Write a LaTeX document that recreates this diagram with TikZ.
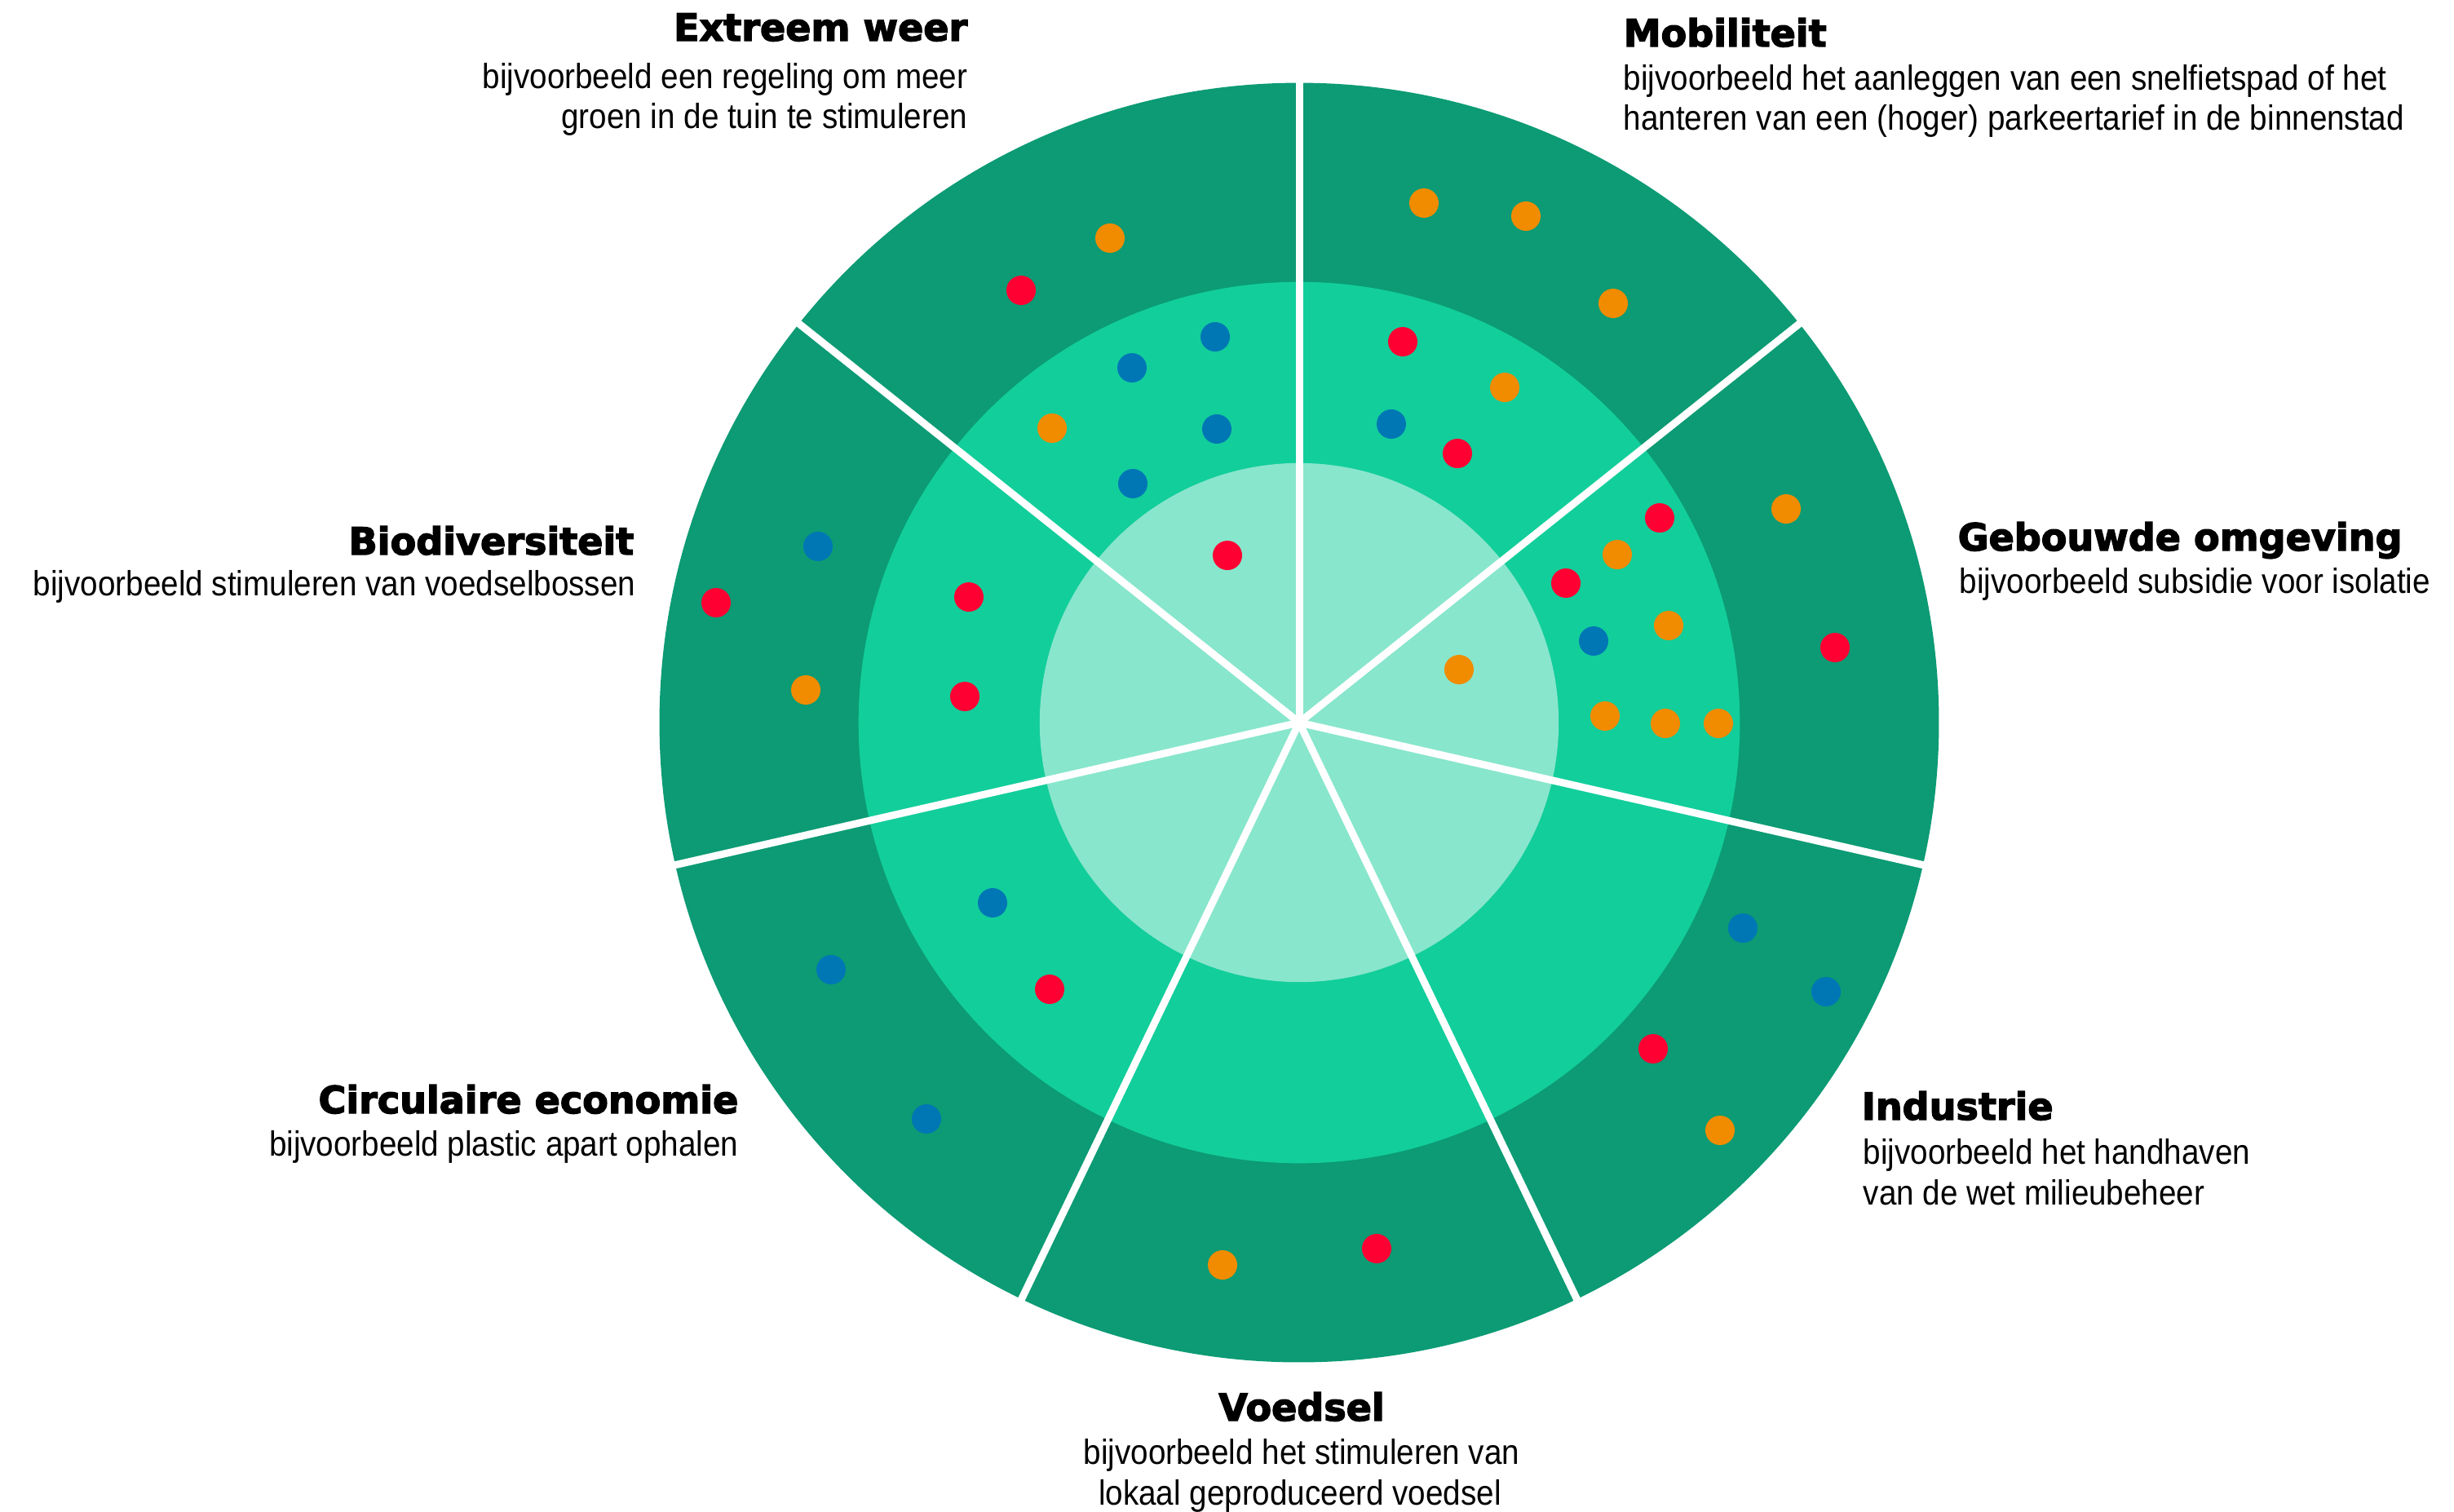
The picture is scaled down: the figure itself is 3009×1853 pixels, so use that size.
\documentclass[tikz,border=0pt]{standalone}
\usepackage{fontspec}
\setmainfont{Liberation Sans}[FakeStretch=0.9]
\newfontfamily\titlefont{DejaVu Sans}[BoldFeatures={FakeBold=3}]
\definecolor{ringdark}{HTML}{0C9B74}
\definecolor{ringmid}{HTML}{12CE9B}
\definecolor{ringlight}{HTML}{88E6CC}
\definecolor{dotO}{HTML}{F18B00}
\definecolor{dotR}{HTML}{FF0033}
\definecolor{dotB}{HTML}{0077B5}
\begin{document}
\begin{tikzpicture}[x=0.01cm,y=-0.01cm,
  ttl/.style={inner sep=0pt, font=\titlefont\bfseries\fontsize{13.1pt}{14pt}\selectfont},
  txt/.style={inner sep=0pt, font=\fontsize{12.2pt}{14pt}\selectfont},
  dot/.style={circle, inner sep=0pt, minimum size=0.36cm, draw=none},
  sep/.style={draw=white, line width=0.09cm}]
\useasboundingbox (0,0) rectangle (3009,1853);
\coordinate (c) at (1593,886);
\fill[ringdark] (c) circle[radius=7.84cm];
\fill[ringmid] (c) circle[radius=5.40cm];
\fill[ringlight] (c) circle[radius=3.18cm];
\foreach \a [count=\i] in {-90,-38.571,12.857,64.286,115.714,167.143,-141.429}{
  \path (c) ++(\a:800) coordinate (e\i);
  \draw[sep] (c) -- (e\i);
}
\foreach \x/\y/\col [count=\i] in {
  1361/292/dotO, 1252/356/dotR, 1490/413/dotB, 1388/451/dotB, 1290/525/dotO, 1492/526/dotB, 1389/593/dotB, 1505/681/dotR,
  1746/249/dotO, 1871/265/dotO, 1978/372/dotO, 1720/419/dotR, 1845/475/dotO, 1706/520/dotB, 1787/556/dotR,
  2190/624/dotO, 2035/635/dotR, 1983/680/dotO, 1920/715/dotR, 2046/767/dotO, 1954/786/dotB, 2250/794/dotR, 1789/821/dotO, 1968/878/dotO, 2042/887/dotO, 2107/887/dotO,
  2137/1138/dotB, 2239/1216/dotB, 2027/1286/dotR, 2109/1386/dotO,
  1499/1551/dotO, 1688/1531/dotR,
  1217/1107/dotB, 1019/1189/dotB, 1287/1213/dotR, 1136/1372/dotB,
  1003/670/dotB, 878/739/dotR, 1188/732/dotR, 988/846/dotO, 1183/854/dotR}{
  \node[dot, fill=\col] (d\i) at (\x,\y) {};
}
% Extreem weer
\node[ttl, anchor=base east] (ewT) at (1187,50) {Extreem weer};
\node[txt, anchor=base east] (ew1) at (1187,108) {bijvoorbeeld een regeling om meer};
\node[txt, anchor=base east] (ew2) at (1187,157) {groen in de tuin te stimuleren};
% Mobiliteit
\node[ttl, anchor=base west] (moT) at (1990,57) {Mobiliteit};
\node[txt, anchor=base west] (mo1) at (1990,110) {bijvoorbeeld het aanleggen van een snelfietspad of het};
\node[txt, anchor=base west] (mo2) at (1990,159) {hanteren van een (hoger) parkeertarief in de binnenstad};
% Gebouwde omgeving
\node[ttl, anchor=base west] (goT) at (2400,675) {Gebouwde omgeving};
\node[txt, anchor=base west] (go1) at (2402,727) {bijvoorbeeld subsidie voor isolatie};
% Biodiversiteit
\node[ttl, anchor=base east] (biT) at (778,680) {Biodiversiteit};
\node[txt, anchor=base east] (bi1) at (780,730) {bijvoorbeeld stimuleren van voedselbossen};
% Industrie
\node[ttl, anchor=base west] (inT) at (2282,1373) {Industrie};
\node[txt, anchor=base west] (in1) at (2284,1427) {bijvoorbeeld het handhaven};
\node[txt, anchor=base west] (in2) at (2284,1477) {van de wet milieubeheer};
% Voedsel
\node[ttl, anchor=base] (voT) at (1596,1742) {Voedsel};
\node[txt, anchor=base] (vo1) at (1596,1795) {bijvoorbeeld het stimuleren van};
\node[txt, anchor=base] (vo2) at (1594,1845) {lokaal geproduceerd voedsel};
% Circulaire economie
\node[ttl, anchor=base east] (ceT) at (906,1365) {Circulaire economie};
\node[txt, anchor=base east] (ce1) at (906,1417) {bijvoorbeeld plastic apart ophalen};
\end{tikzpicture}
\end{document}
